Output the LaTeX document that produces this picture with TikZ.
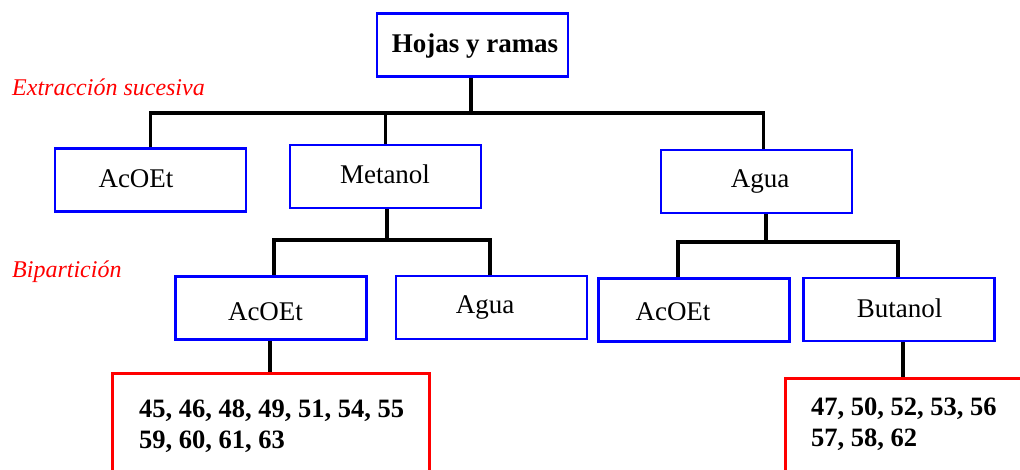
\documentclass[tikz,border=0pt]{standalone}
\usepackage{fontspec}
\setmainfont{Liberation Serif}
\definecolor{boxblue}{RGB}{0,0,255}
\definecolor{labred}{RGB}{255,0,0}
\begin{document}
\begin{tikzpicture}[x=1pt,y=-1pt,
  box/.style={draw=boxblue, line width=2.6pt, rectangle, inner sep=0pt,
    minimum width=191, minimum height=63},
  result/.style={draw=labred, line width=2.6pt, rectangle, inner sep=0pt, anchor=north west},
  txt/.style={inner sep=0pt, anchor=base, font=\fontsize{27}{32}\selectfont},
  num/.style={inner sep=0pt, anchor=base west, font=\fontsize{26.5}{31}\selectfont\bfseries},
  stage/.style={inner sep=0pt, anchor=base west, text=labred,
    font=\fontsize{24}{28}\selectfont\itshape},
  conn/.style={draw=black, line width=3.2pt}]
\clip (0,0) rectangle (1020,469);
\fill[white] (0,0) rectangle (1020,469);

% boxes
\node[box] (top) at (472.5,45) {};
\node[box] (acoet1) at (150.5,180) {};
\node[box] (metanol) at (385.5,176.5) {};
\node[box] (agua1) at (756.5,181.5) {};
\node[box] (acoet2) at (271,308) {};
\node[box] (agua2) at (491.5,307.5) {};
\node[box] (acoet3) at (694,310) {};
\node[box] (butanol) at (899,309.5) {};

% box texts
\node[txt] (t-top) at (475,52) {\bfseries Hojas y ramas};
\node[txt] (t-acoet1) at (136,187) {AcOEt};
\node[txt] (t-metanol) at (385,183) {Metanol};
\node[txt] (t-agua1) at (760,187) {Agua};
\node[txt] (t-acoet2) at (265.5,320) {AcOEt};
\node[txt] (t-agua2) at (485,313) {Agua};
\node[txt] (t-acoet3) at (673,320) {AcOEt};
\node[txt] (t-butanol) at (899.5,317) {Butanol};

% stage labels
\node[stage] (s1) at (12,95) {Extracción sucesiva};
\node[stage] (s2) at (12,277) {Bipartición};

% result boxes
\node[result, minimum width=317, minimum height=120] (r1) at (111,372) {};
\node[result, minimum width=260, minimum height=120] (r2) at (784,377) {};
\node[num] (r1a) at (139,417) {45, 46, 48, 49, 51, 54, 55};
\node[num] (r1b) at (139,448) {59, 60, 61, 63};
\node[num] (r2a) at (811,415) {47, 50, 52, 53, 56};
\node[num] (r2b) at (811,446) {57, 58, 62};

% junctions
\coordinate (j1) at (471,113);
\coordinate (j2) at (387,240);
\coordinate (j3) at (766,242);

% first level connectors
\draw[conn] (top.south -| j1) -- (j1);
\draw[conn] (acoet1.north) |- ([xshift=7]agua1.north |- j1) -- ([xshift=7]agua1.north);
\draw[conn] (metanol.north) -- (metanol.north |- j1);

% second level connectors (Metanol)
\draw[conn] (metanol.south -| j2) -- (j2);
\draw[conn] ([xshift=3]acoet2.north) |- ([xshift=-1.5]agua2.north |- j2) -- ([xshift=-1.5]agua2.north);

% second level connectors (Agua)
\draw[conn] (agua1.south -| j3) -- (j3);
\draw[conn] ([xshift=-16]acoet3.north) |- ([xshift=-1]butanol.north |- j3) -- ([xshift=-1]butanol.north);

% to result boxes
\draw[conn] ([xshift=-1]acoet2.south) -- ([xshift=-1]acoet2.south |- r1.north);
\draw[conn] ([xshift=4]butanol.south) -- ([xshift=4]butanol.south |- r2.north);
\end{tikzpicture}
\end{document}
